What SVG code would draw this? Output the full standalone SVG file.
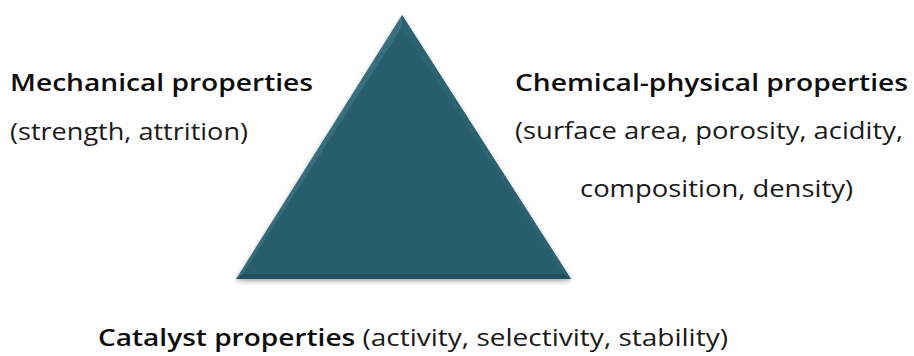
<svg xmlns="http://www.w3.org/2000/svg" width="914" height="356" viewBox="0 0 914 356">
  <defs>
    <filter id="shadow" x="-10%" y="-10%" width="120%" height="130%">
      <feGaussianBlur stdDeviation="2.5"/>
    </filter>
    <linearGradient id="bevelL" x1="0" y1="0" x2="1" y2="1">
      <stop offset="0" stop-color="#3b7484"/>
      <stop offset="1" stop-color="#2f6676"/>
    </linearGradient>
  </defs>
  <style>
    .t { font-family: "Open Sans", "Noto Sans", "Liberation Sans", sans-serif; font-size: 23px; fill: #1a1a1a; }
    .b { font-weight: 600; fill: #0d0d0d; }
  </style>
  <rect width="914" height="356" fill="#ffffff"/>

  <!-- pyramid with a soft bevel and a drop shadow -->
  <g id="triangle">
    <polygon points="402,18 236,281 571,281" fill="#555" opacity="0.55" filter="url(#shadow)"/>
    <polygon points="402,15 236,279 571,279" fill="url(#bevelL)"/>
    <polygon points="236,279 571,279 564,274 243,274" fill="#234f5c"/>
    <polygon points="571,279 402,15 402,27 564,274" fill="#2c6373"/>
    <polygon points="402,27 243,274 564,274" fill="#285e6c"/>
  </g>

  <g id="mechanical">
    <text class="t b" x="10" y="91" textLength="303" lengthAdjust="spacingAndGlyphs">Mechanical properties</text>
    <text class="t" x="10" y="140" textLength="238" lengthAdjust="spacingAndGlyphs">(strength, attrition)</text>
  </g>

  <g id="chemical">
    <text class="t b" x="515" y="91" textLength="393" lengthAdjust="spacingAndGlyphs">Chemical-physical properties</text>
    <text class="t" x="515" y="139" textLength="388" lengthAdjust="spacingAndGlyphs">(surface area, porosity, acidity,</text>
    <text class="t" x="580" y="197" textLength="273" lengthAdjust="spacingAndGlyphs">composition, density)</text>
  </g>

  <g id="catalyst">
    <text class="t" x="98" y="346" textLength="630" lengthAdjust="spacingAndGlyphs"><tspan class="b">Catalyst properties</tspan> (activity, selectivity, stability)</text>
  </g>
</svg>
